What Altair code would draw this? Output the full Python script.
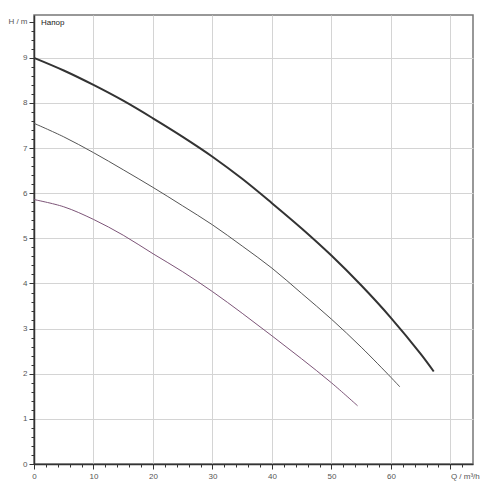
import altair as alt
import pandas as pd

# Pump curves (Q in m³/h, H in m)
q_top = [0, 5, 10, 15, 20, 25, 30, 35, 40, 45, 50, 55, 60, 65, 67.2]
h_top = [9.0, 8.72, 8.40, 8.05, 7.66, 7.25, 6.81, 6.32, 5.78, 5.22, 4.62, 3.96, 3.24, 2.44, 2.05]

q_mid = [0, 5, 10, 15, 20, 25, 30, 35, 40, 45, 50, 55, 60, 61.5]
h_mid = [7.55, 7.25, 6.90, 6.52, 6.13, 5.72, 5.30, 4.83, 4.34, 3.78, 3.21, 2.59, 1.92, 1.71]

q_low = [0, 5, 10, 15, 20, 25, 30, 35, 40, 45, 50, 54.4]
h_low = [5.86, 5.70, 5.42, 5.07, 4.66, 4.26, 3.82, 3.34, 2.84, 2.33, 1.80, 1.29]

x_major = [0, 10, 20, 30, 40, 50, 60, 70]
y_major = [0, 1, 2, 3, 4, 5, 6, 7, 8, 9, 9.8]
x_minor = list(range(0, 74, 2))
y_minor = [round(i * 0.2, 1) for i in range(0, 50)]

df_top = pd.DataFrame({"Q": q_top, "H": h_top})
df_mid = pd.DataFrame({"Q": q_mid, "H": h_mid})
df_low = pd.DataFrame({"Q": q_low, "H": h_low})

xscale = alt.Scale(domain=[0, 73.8], nice=False, zero=False)
yscale = alt.Scale(domain=[0, 9.95], nice=False, zero=False)

FONT = "Liberation Sans"

x_axis_main = alt.Axis(
    values=x_major, title=None, orient="bottom",
    labelExpr="datum.value == 70 ? 'Q / m³/h' : datum.label",
    labelAlign={"condition": {"test": "datum.value == 70", "value": "left"}, "value": "center"},
    labelFontSize=8, labelColor="#555", labelFont=FONT, labelPadding=3,
    grid=True, gridColor="#d4d4d4", gridWidth=1,
    gridOpacity={"condition": {"test": "datum.value == 0", "value": 0}, "value": 1},
    domainColor="#333", domainWidth=1.5, tickColor="#333", tickSize=5,
)
y_axis_main = alt.Axis(
    values=y_major, title=None, orient="left",
    labelExpr="datum.value == 9.8 ? 'H / m' : datum.label",
    labelFontSize=8, labelColor="#555", labelFont=FONT, labelPadding=2,
    grid=True, gridColor="#d4d4d4", gridWidth=1,
    gridOpacity={"condition": {"test": "datum.value == 0 || datum.value == 9.8", "value": 0}, "value": 1},
    domainColor="#333", domainWidth=1.5, tickColor="#333", tickSize=5,
)
x_axis_minor = alt.Axis(
    values=x_minor, title=None, orient="bottom", labels=False, grid=False,
    domain=False, tickColor="#333", tickSize=3,
)
y_axis_minor = alt.Axis(
    values=y_minor, title=None, orient="left", labels=False, grid=False,
    domain=False, tickColor="#333", tickSize=3,
)

top = alt.Chart(df_top).mark_line(color="#333333", strokeWidth=2, interpolate="catmull-rom").encode(
    x=alt.X("Q:Q", scale=xscale, axis=x_axis_main),
    y=alt.Y("H:Q", scale=yscale, axis=y_axis_main),
)
mid = alt.Chart(df_mid).mark_line(color="#555555", strokeWidth=1, interpolate="catmull-rom").encode(
    x=alt.X("Q:Q", scale=xscale, axis=x_axis_minor),
    y=alt.Y("H:Q", scale=yscale, axis=y_axis_minor),
)
low = alt.Chart(df_low).mark_line(color="#7d5578", strokeWidth=1, interpolate="catmull-rom").encode(
    x=alt.X("Q:Q", scale=xscale, axis=None),
    y=alt.Y("H:Q", scale=yscale, axis=None),
)

chart = alt.layer(top, mid, low).resolve_axis(x="independent", y="independent").properties(
    width=439, height=449,
    autosize=alt.AutoSizeParams(type="none"),
    padding={"left": 26, "top": 7, "right": 19, "bottom": 27},
    title=alt.TitleParams(
        "Напор", anchor="start", orient="top", frame="group", baseline="top",
        offset=-3, dx=7, dy=9, fontSize=8, fontWeight="normal", color="#222", font=FONT,
    ),
).configure_view(stroke="#777", strokeWidth=1.5)

chart.save("out.html", embed_options={"renderer": "svg", "actions": False})
